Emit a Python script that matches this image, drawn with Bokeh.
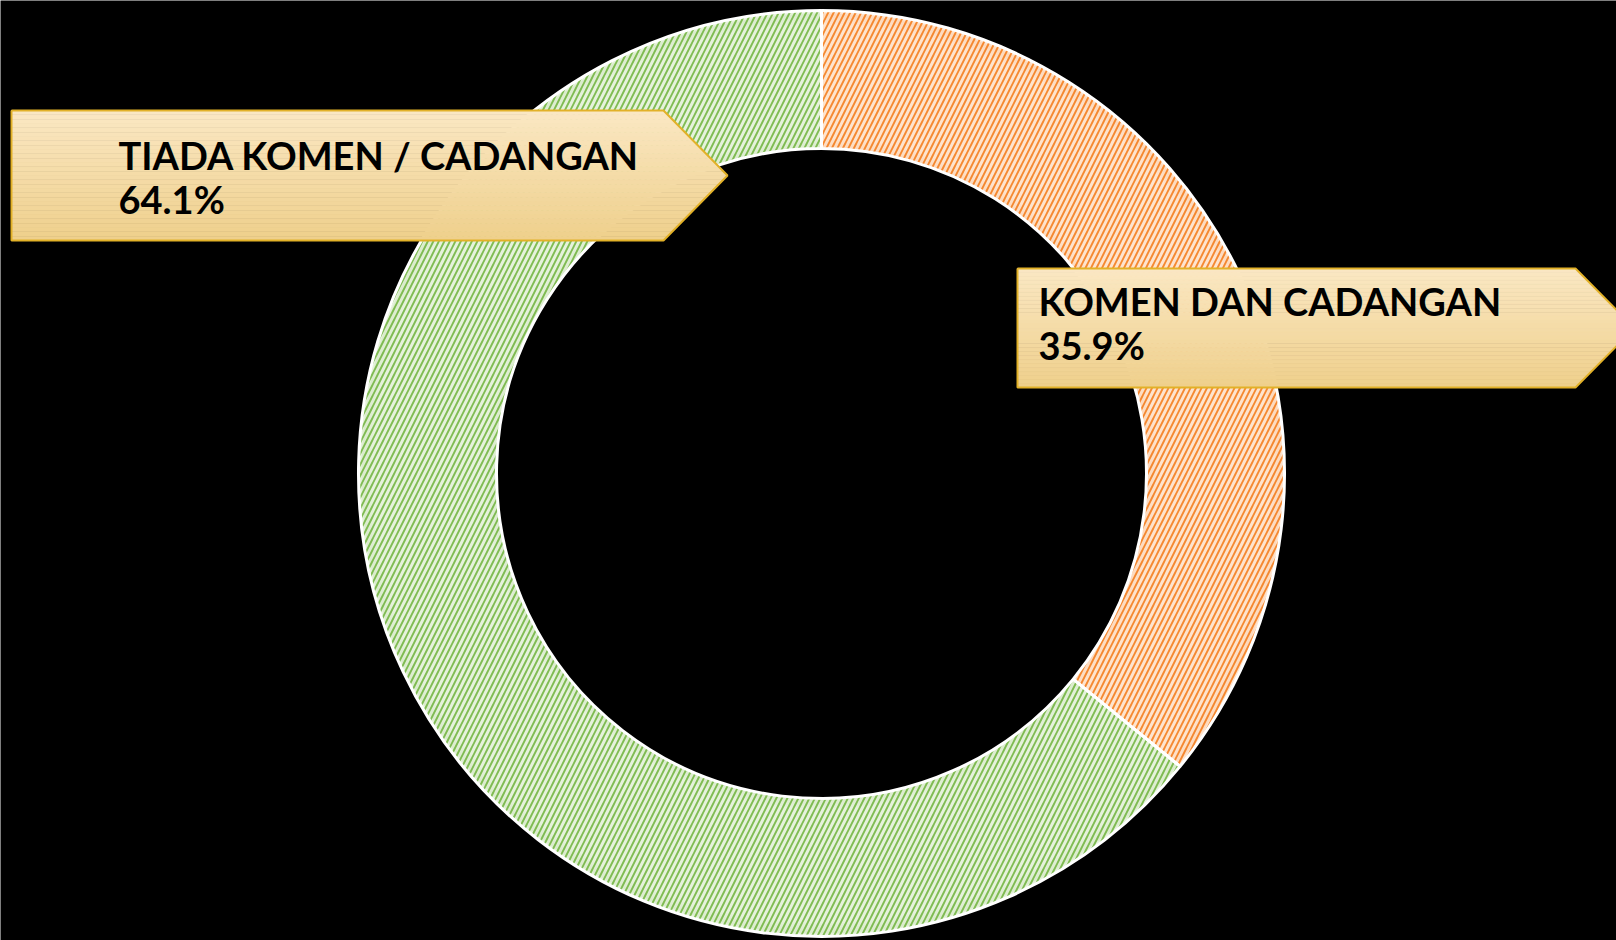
import math
from bokeh.plotting import figure
from bokeh.models import Range1d, ColumnDataSource
from bokeh.core.properties import value
from bokeh.embed import file_html
from bokeh.resources import INLINE

# ---- data ----
categories = ["KOMEN DAN CADANGAN", "TIADA KOMEN / CADANGAN"]
shares = [35.9, 64.1]
slice_colors = ["#fee4ce", "#e6f2dc"]
hatch_colors = ["#f47f20", "#74b644"]

W, H = 1616, 940
p = figure(width=W, height=H, output_backend="svg", toolbar_location=None,
           x_range=Range1d(0, W), y_range=Range1d(0, H),
           x_axis_location=None, y_axis_location=None, min_border=0,
           background_fill_color="black", border_fill_color="black",
           outline_line_color=None)
p.grid.visible = False

def Y(y):
    return H - y

cx, cy = 821, Y(473)
r_out, r_in = 463, 325

total = sum(shares)
starts, ends = [], []
ang = math.pi / 2
for s in shares:
    sweep = 2 * math.pi * s / total
    ends.append(ang)
    starts.append(ang - sweep)
    ang -= sweep

src = ColumnDataSource(dict(start=starts, end=ends, fill=slice_colors, hatch=hatch_colors,
                            x=[cx] * len(shares), y=[cy] * len(shares)))
p.annular_wedge(x="x", y="y", inner_radius=r_in, outer_radius=r_out,
                start_angle="start", end_angle="end", source=src,
                fill_color="fill", hatch_pattern="/", hatch_color="hatch",
                hatch_alpha=0.9, hatch_scale=11, hatch_weight=1.9, line_color=None)

# soft inner shading near the ring edges
for k in range(5):
    a = 0.10 - 0.018 * k
    p.annular_wedge(x="x", y="y", inner_radius=r_out - 3 - 2 * (k + 1), outer_radius=r_out - 3 - 2 * k,
                    start_angle="start", end_angle="end", source=src,
                    fill_color="hatch", fill_alpha=a, line_color=None)
    p.annular_wedge(x="x", y="y", inner_radius=r_in + 2 * k, outer_radius=r_in + 2 * (k + 1),
                    start_angle="start", end_angle="end", source=src,
                    fill_color="hatch", fill_alpha=a, line_color=None)

p.annular_wedge(x="x", y="y", inner_radius=r_in, outer_radius=r_out,
                start_angle="start", end_angle="end", source=src,
                fill_color=None, line_color="white", line_width=3)

# ---- callout boxes ----
def callout(x0, xr, xt, t, b, n=30):
    ym = (t + b) / 2
    half = (b - t) / 2
    def xright(y):
        return xr + (xt - xr) * (1 - abs(y - ym) / half)
    top_c = (251, 232, 196)
    bot_c = (239, 208, 140)
    xs_list, ys_list, cols = [], [], []
    for i in range(n):
        y1 = t + (b - t) * i / n
        y2 = t + (b - t) * (i + 1) / n
        xs = [x0, xright(y1)]
        ys = [y1, y1]
        if y1 < ym < y2:
            xs.append(xt); ys.append(ym)
        xs += [xright(y2), x0]
        ys += [y2, y2]
        f = (i + 0.5) / n
        c = tuple(int(top_c[k] + (bot_c[k] - top_c[k]) * f) for k in range(3))
        xs_list.append(xs)
        ys_list.append([Y(v) for v in ys])
        cols.append("#%02x%02x%02x" % c)
    p.patches(xs_list, ys_list, fill_color=cols, line_color=cols, line_width=0.8)
    ox = [x0, xr, xt, xr, x0, x0]
    oy = [t, t, ym, b, b, t]
    p.line(ox, [Y(v) for v in oy], line_color="#e2b128", line_width=2)

callout(11, 663, 727, 110, 240)
callout(1017, 1575, 1634, 268, 387)

label_pos = [(1038, 300, 344), (118, 154, 198)]
for (lx, ly1, ly2), cat, s in zip(label_pos, categories, shares):
    p.text(x=[lx, lx], y=[Y(ly1), Y(ly2)], text=[cat, f"{s:.1f}%"],
           text_font=value("Lato"), text_font_style="bold", text_font_size="38px",
           text_color="black", text_baseline="alphabetic", text_align="left")

open("out.html", "w").write(file_html(p, INLINE))
